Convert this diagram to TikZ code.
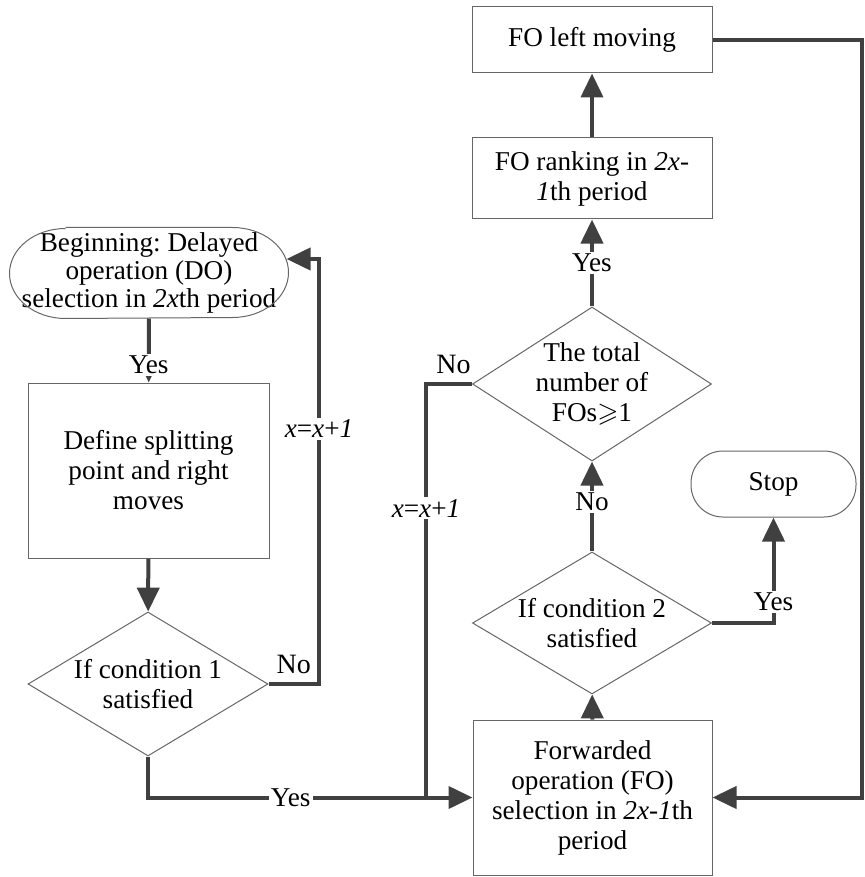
\documentclass[tikz,border=0pt]{standalone}
\usepackage{amssymb}
\usepackage{fontspec}
\newfontfamily\flowfont{Liberation Serif}
\usetikzlibrary{arrows.meta,shapes.geometric}

\tikzset{
   box/.style={draw=black!60,line width=.5pt,rectangle,align=center,inner sep=2pt},
   term/.style={draw=black!60,line width=.5pt,rectangle,align=center,inner sep=1pt},
   edge/.style={draw=black!60,line width=.5pt},
   decide/.style={draw=black!60,line width=.5pt,diamond,inner sep=0pt},
   flow/.style={draw=black!75,line width=2pt,-{Triangle[length=12pt,width=11pt]}},
   link/.style={draw=black!75,line width=2pt},
   tag/.style={fill=white,inner sep=1pt}
}

\begin{document}
\frenchspacing
\begin{tikzpicture}[x=.5pt,y=-.5pt,font=\flowfont\fontsize{13.6}{15}\selectfont]

   \useasboundingbox (0,0) rectangle (864,877);

   % left column
   \node[term,draw=none,minimum width=139pt,minimum height=45pt,
      font=\flowfont\fontsize{13.6}{14.2}\selectfont] (begin) at (149,273)
      {Beginning: Delayed\\operation (DO)\\selection in \textit{2x}th period};
   \draw[edge] ([xshift=28pt]begin.north west) -- ([xshift=-28pt]begin.north east)
      arc[start angle=90,end angle=-90,x radius=28pt,y radius=22.5pt]
      -- ([xshift=28pt]begin.south west)
      arc[start angle=270,end angle=90,x radius=28pt,y radius=22.5pt];
   \node[box,minimum width=120.5pt,minimum height=87.5pt] (define) at (148.5,470.5)
      {Define splitting\\point and right\\moves};
   \node[decide,minimum width=120pt,minimum height=72pt,
      label={[align=center]center:If condition 1\\satisfied}] (cond1) at (148,684) {};

   % right column
   \node[box,minimum width=120pt,minimum height=33pt] (left) at (592,40) {FO left moving};
   \node[box,minimum width=120pt,minimum height=40.5pt] (rank) at (592,178.5)
      {FO ranking in \textit{2x}-\\\textit{1}th period};
   \node[decide,minimum width=119.5pt,minimum height=77pt,
      label={[align=center]center:The total\\number of\\FOs\(\geqslant\)1}] (total) at (592,384) {};
   \node[decide,minimum width=119.5pt,minimum height=71pt,
      label={[align=center]center:If condition 2\\satisfied}] (cond2) at (592,623) {};
   \node[box,minimum width=119.5pt,minimum height=77.5pt] (fosel) at (592.5,797.5)
      {Forwarded\\operation (FO)\\selection in \textit{2x}-\textit{1}th\\period};
   \node[term,rounded corners=16pt,minimum width=82.5pt,minimum height=33pt] (stop) at (773.5,484) {Stop};

   \coordinate (back1) at (319,259);
   \coordinate (join1) at (426,798);
   \coordinate (back2) at (862,40);

   % connectors
   \draw[flow] (begin) -- node[tag,pos=.72] {Yes} (define);
   \draw[flow] (define) -- (cond1);
   \draw[flow] (cond1.east) -| node[pos=.25,above=1pt,font=\flowfont\fontsize{14}{16}\selectfont] {No}
      node[pos=.8,tag] {\textit{x}=\textit{x}+\textit{1}} (back1)
      -- ([xshift=-1pt]begin.east |- back1);
   \draw[flow] (cond1.south) |- node[pos=.72,tag] {Yes} (fosel.west);
   \draw[link] (total.west) -| node[pos=.2,above=1pt,font=\flowfont\fontsize{14}{16}\selectfont] {No}
      node[pos=.65,tag] {\textit{x}=\textit{x}+\textit{1}} (join1);
   \draw[flow] (fosel) -- (cond2);
   \draw[flow] (cond2.east) -| node[pos=.6,tag] {Yes} (stop);
   \draw[flow] (cond2) -- node[tag,pos=.55] {No} (total);
   \draw[flow] (total) -- node[tag,pos=.5] {Yes} (rank);
   \draw[flow] (rank) -- (left);
   \draw[flow] (left.east) -- (back2) |- (fosel.east);

\end{tikzpicture}
\end{document}
